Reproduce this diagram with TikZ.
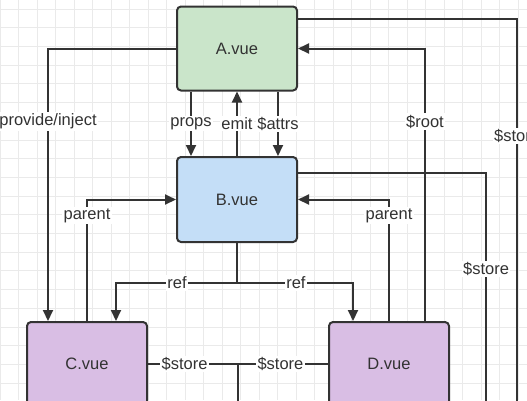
\documentclass[tikz,border=0pt]{standalone}
\usepackage{fontspec}
\setmainfont{Liberation Sans}
\usepackage{tikz}
\usetikzlibrary{arrows.meta,positioning,calc}
\definecolor{VDline}{RGB}{51,51,51}
\definecolor{VDtext}{RGB}{50,50,50}
\definecolor{VDgrid}{RGB}{234,234,234}
\definecolor{VDgreen}{RGB}{202,229,202}
\definecolor{VDblue}{RGB}{196,222,247}
\definecolor{VDpurple}{RGB}{217,190,228}
\tikzset{
  comp/.style={rounded corners=4pt,draw=VDline,line width=2pt,text=VDtext,
               minimum width=120pt,minimum height=84pt,inner sep=0pt,
               font=\fontsize{16.5}{19}\selectfont},
  fl/.style={-{Triangle[length=11pt,width=10pt]},line width=2pt,draw=VDline},
  ln/.style={line width=2pt,draw=VDline},
  lbl/.style={fill=white,text=VDtext,inner sep=1.5pt,
              font=\fontsize{16.5}{19}\selectfont},
  gridln/.style={draw=VDgrid,line width=0.7pt}
}
\begin{document}
\begin{tikzpicture}[x=1pt,y=-1pt]
  \useasboundingbox (0,0) rectangle (527,400);
  \clip (0,0) rectangle (527,400);
  \fill[white] (0,0) rectangle (527,400);
  % background grid
  \foreach \i in {0,...,28} \draw[gridln] (18.5*\i,0) -- (18.5*\i,400);
  \foreach \j in {0,...,22} \draw[gridln] (0,9+18.7*\j) -- (527,9+18.7*\j);
  % components
  \node[comp,fill=VDgreen] (A) at (237,48.5) {A.vue};
  \node[comp,fill=VDblue,minimum height=85pt] (B) at (237,199.5) {B.vue};
  \node[comp,fill=VDpurple] (C) at (87,364) {C.vue};
  \node[comp,fill=VDpurple] (D) at (389,364) {D.vue};
  \coordinate (r) at (237,283);
  \coordinate (s) at ($(C.east)!0.5!(D.west)$);
  \coordinate (sA) at (517,420);
  \coordinate (sB) at (486,420);
  \coordinate (sC) at ($(s)+(0,60)$);
  % A <-> B
  \draw[fl] ([xshift=-46pt]A.south) -- node[lbl] (lprops) {props} ([xshift=-46pt]B.north);
  \draw[fl] (B.north) -- node[lbl] (lemit) {emit} (A.south);
  \draw[fl] ([xshift=41pt]A.south) -- node[lbl] (lattrs) {\$attrs} ([xshift=41pt]B.north);
  % A -> C, D -> A
  \draw[fl] (A.west) -| node[lbl,pos=0.634] (lpi) {provide/inject} ([xshift=-39pt]C.north);
  \draw[fl] ([xshift=36pt]D.north) |- node[lbl,pos=0.366] (lroot) {\$root} (A.east);
  % parent
  \draw[fl] (C.north) |- node[lbl,pos=0.434] (lparc) {parent} (B.west);
  \draw[fl] (D.north) |- node[lbl,pos=0.434] (lpard) {parent} (B.east);
  % ref
  \draw[ln] (B.south) -- (r);
  \draw[fl] (r) -| node[lbl,pos=0.248] (lrefc) {ref} ([xshift=29pt]C.north);
  \draw[fl] (r) -| node[lbl,pos=0.254] (lrefd) {ref} ([xshift=-36pt]D.north);
  % $store
  \draw[ln] ([yshift=-13pt]A.north east) -| node[lbl,pos=0.646] (lstoreA) {\$store} (sA);
  \draw[ln] ([yshift=-17pt]B.north east) -| node[lbl,pos=0.694] (lstoreB) {\$store} (sB);
  \draw[ln] (C.east) -- node[lbl,pos=0.203] (lstoreC) {\$store}
                        node[lbl,pos=0.736] (lstoreD) {\$store} (D.west);
  \draw[ln] (s) -- (sC);
\end{tikzpicture}
\end{document}
